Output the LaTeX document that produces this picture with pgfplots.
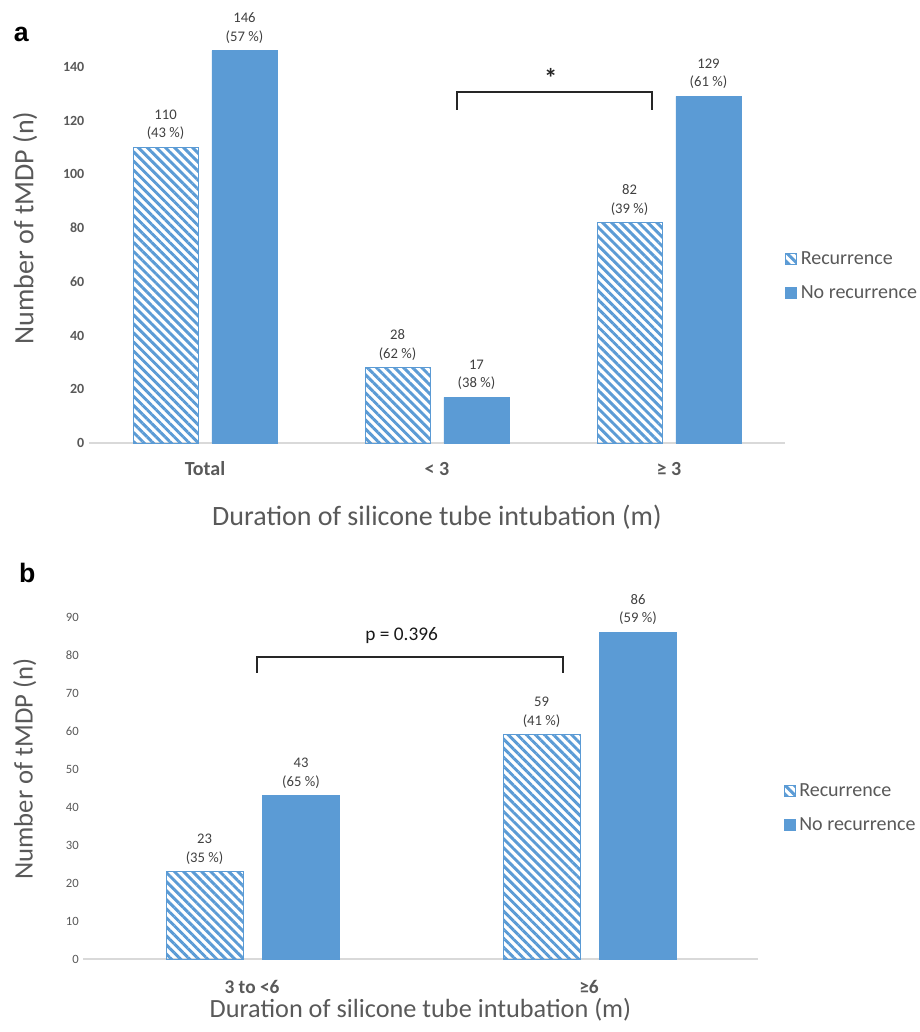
\documentclass[border=0pt]{standalone}
\usepackage{pgfplots}
\pgfplotsset{compat=1.18}
\usepackage{fontspec}
\setmainfont{Carlito}
\newfontfamily\arialfont{Liberation Sans}
\usetikzlibrary{patterns.meta}
\definecolor{barblue}{HTML}{5B9BD5}
\definecolor{tickgray}{HTML}{595959}
\definecolor{lblgray}{HTML}{404040}
\definecolor{axgray}{HTML}{D9D9D9}

\pgfplotsset{
  common/.style={
    anchor=south west, scale only axis,
    axis lines=left,
    axis line style={-},
    y axis line style={draw=none},
    x axis line style={draw=axgray, line width=1pt},
    major tick length=0pt,
    tick style={draw=none},
    /pgf/number format/assume math mode=true,
    point meta=explicit symbolic,
    nodes near coords={\pgfplotspointmeta},
    every node near coord/.append style={align=center, anchor=south, yshift=2pt,
      font=\fontsize{11}{14}\selectfont, text=lblgray},
    legend cell align=left,
    legend image code/.code={\draw[#1,line width=0.4pt] (0pt,-4pt) rectangle (8.25pt,4.25pt);},
    every axis y label/.style={at={(rel axis cs:0,0.5)}, rotate=90, anchor=center, text=tickgray},
    every axis x label/.style={at={(rel axis cs:0.5,0)}, anchor=center, text=tickgray},
  },
  recbar/.style={ybar, draw=barblue, line width=0.6pt,
    postaction={pattern={Lines[angle=-45,distance=4.8pt,line width=2.2pt]}, pattern color=barblue}},
  norecbar/.style={ybar, fill=barblue, draw=barblue, line width=0.4pt},
}

\begin{document}
\begin{tikzpicture}
\useasboundingbox (0,0) rectangle (690pt,-774pt);

\node[font=\arialfont\bfseries\fontsize{20}{20}\selectfont, anchor=center] at (16pt,-25.5pt) {a};
\node[font=\arialfont\bfseries\fontsize{20}{20}\selectfont, anchor=center] at (20.5pt,-430pt) {b};

% ---------- panel a ----------
\begin{axis}[common,
  at={(66.75pt,-332.25pt)},
  width=522pt, height=322.5pt,
  xmin=-0.5, xmax=2.5, ymin=0, ymax=160,
  xtick={0,1,2}, xticklabels={Total,{< 3},{≥ 3}},
  ytick={0,20,...,140},
  yticklabel style={font=\bfseries\fontsize{10.5}{12}\selectfont, text=tickgray},
  xticklabel style={font=\bfseries\fontsize{15}{18}\selectfont, text=tickgray, anchor=base, yshift=-24.4pt},
  ylabel={Number of tMDP (n)},
  ylabel style={font=\fontsize{21}{24}\selectfont, yshift=48pt},
  xlabel={Duration of silicone tube intubation (m)},
  xlabel style={font=\fontsize{21}{24}\selectfont, yshift=-55.5pt},
  legend style={at={(1.0,0.388)}, anchor=west, draw=none, fill=none,
    font=\fontsize{15}{18}\selectfont, text=tickgray, row sep=10pt, inner sep=0pt,
    nodes={inner xsep=3pt, inner ysep=2pt}},
]
\addplot[recbar, bar width=48.75pt, bar shift=-29.6pt,
  every node near coord/.append style={xshift=-29.6pt}] coordinates {
  (0,110) [{110\\(43~\%)}]
  (1,28)  [{28\\(62~\%)}]
  (2,82)  [{82\\(39~\%)}]
};
\addlegendentry{Recurrence}
\addplot[norecbar, bar width=48.75pt, bar shift=29.6pt,
  every node near coord/.append style={xshift=29.6pt}] coordinates {
  (0,146) [{146\\(57~\%)}]
  (1,17)  [{17\\(38~\%)}]
  (2,129) [{129\\(61~\%)}]
};
\addlegendentry{No recurrence}
\draw[line width=1.3pt, color=black!85] (axis cs:1.086,124) -- (axis cs:1.086,130.7) -- (axis cs:1.927,130.7) -- (axis cs:1.927,124);
\node[font=\bfseries\fontsize{20}{20}\selectfont, text=black!85, anchor=center] at (axis cs:1.49,136) {*};
\end{axis}

% ---------- panel b ----------
\begin{axis}[common,
  at={(62.625pt,-719.25pt)},
  width=505.5pt, height=285pt,
  xmin=-0.5, xmax=1.5, ymin=0, ymax=100,
  xtick={0,1}, xticklabels={3 to <6,≥6},
  ytick={0,10,...,90},
  yticklabel style={font=\fontsize{9.5}{11}\selectfont, text=tickgray},
  xticklabel style={font=\bfseries\fontsize{14.5}{17}\selectfont, text=tickgray, anchor=base, yshift=-25.5pt},
  ylabel={Number of tMDP (n)},
  ylabel style={font=\fontsize{20}{23}\selectfont, yshift=44pt},
  xlabel={Duration of silicone tube intubation (m)},
  xlabel style={font=\fontsize{19.7}{23}\selectfont, yshift=-38pt},
  legend style={at={(1.0,0.397)}, anchor=west, xshift=19.5pt, draw=none, fill=none,
    font=\fontsize{15}{18}\selectfont, text=tickgray, row sep=10pt, inner sep=0pt,
    nodes={inner xsep=3pt, inner ysep=2pt}},
]
\addplot[recbar, bar width=57.75pt, bar shift=-35.6pt,
  every node near coord/.append style={xshift=-35.6pt}] coordinates {
  (0,23) [{23\\(35~\%)}]
  (1,59) [{59\\(41~\%)}]
};
\addlegendentry{Recurrence}
\addplot[norecbar, bar width=57.75pt, bar shift=36.75pt,
  every node near coord/.append style={xshift=36.75pt}] coordinates {
  (0,43) [{43\\(65~\%)}]
  (1,86) [{86\\(59~\%)}]
};
\addlegendentry{No recurrence}
\draw[line width=1.3pt, color=black!85] (axis cs:0.015,75.3) -- (axis cs:0.015,79.5) -- (axis cs:0.923,79.5) -- (axis cs:0.923,75.3);
\node[font=\fontsize{14.5}{16}\selectfont, text=black!90, anchor=center] at (axis cs:0.444,85) {p = 0.396};
\end{axis}
\end{tikzpicture}
\end{document}
